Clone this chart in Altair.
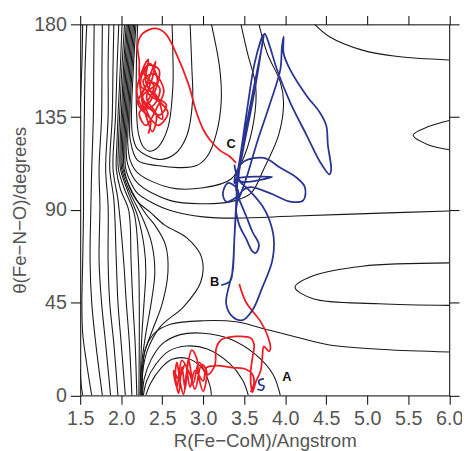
import altair as alt
import pandas as pd

# ---------------- contour lines (R in Angstrom, theta in degrees) ----------------
T0 = [(1.53, 180), (1.52, 160), (1.50, 140)]
T00 = [(1.50, 13), (1.51, 6), (1.53, 0)]
T1 = [(1.58, 180), (1.56, 160), (1.55, 135), (1.54, 110), (1.54, 90), (1.53, 65), (1.52, 45), (1.53, 30), (1.58, 15), (1.64, 0)]
T2 = [(1.67, 180), (1.665, 160), (1.66, 135), (1.64, 110), (1.63, 92), (1.62, 65), (1.64, 45), (1.69, 25), (1.77, 0)]
T3 = [(1.77, 180), (1.765, 160), (1.76, 135), (1.73, 110), (1.74, 92), (1.73, 65), (1.76, 45), (1.81, 25), (1.87, 0)]
T4 = [(1.85, 180), (1.84, 160), (1.84, 135), (1.81, 110), (1.84, 92), (1.84, 65), (1.86, 45), (1.91, 25), (1.96, 0)]
T5 = [(1.91, 180), (1.90, 160), (1.89, 135), (1.86, 110), (1.91, 95), (1.94, 65), (1.96, 45), (2.00, 25), (2.05, 0)]
T6 = [(1.97, 180), (1.95, 160), (1.93, 135), (1.90, 110), (1.96, 95), (2.03, 65), (2.06, 46), (2.10, 25), (2.13, 0)]
T7 = [(2.01, 180), (1.99, 160), (1.96, 135), (1.945, 120), (1.94, 110), (1.99, 100), (2.09, 90), (2.12, 65), (2.14, 46), (2.17, 25), (2.19, 0)]
T8 = [(2.04, 180), (2.01, 160), (1.98, 135), (1.965, 120), (1.965, 110), (2.04, 100), (2.16, 88), (2.21, 65), (2.22, 46), (2.22, 25), (2.215, 0)]
T9 = [(2.06, 180), (2.03, 160), (2.00, 135), (1.985, 120), (1.99, 110), (2.08, 99), (2.20, 87), (2.28, 72), (2.30, 60), (2.28, 46), (2.25, 28), (2.23, 0)]
B1 = [(2.075, 180), (2.045, 160), (2.015, 135), (2.0, 120), (2.005, 110), (2.10, 99), (2.26, 86), (2.37, 74), (2.41, 60), (2.37, 46), (2.30, 30), (2.25, 15), (2.24, 0)]
B2 = [(2.09, 180), (2.06, 160), (2.03, 135), (2.015, 120), (2.02, 110), (2.13, 99), (2.30, 88), (2.42, 82), (2.54, 73), (2.57, 60), (2.50, 44.5), (2.38, 31.6), (2.28, 20), (2.245, 0)]
B3 = [(2.105, 180), (2.075, 160), (2.045, 135), (2.03, 120), (2.035, 110), (2.10, 101), (2.2, 94), (2.35, 89), (2.53, 82.6), (2.80, 76.4), (2.98, 67), (2.97, 55), (2.76, 43), (2.48, 33.5), (2.32, 22), (2.26, 11), (2.25, 0)]
H1 = [(2.12, 180), (2.09, 160), (2.06, 135), (2.045, 120), (2.055, 110), (2.12, 103), (2.2, 98), (2.4, 93), (2.6, 89.7), (3.0, 86.6), (3.4, 86), (4.12, 87), (5.08, 88.3), (6.0, 89.5)]
U5 = [(2.135, 180), (2.105, 160), (2.075, 135), (2.06, 120), (2.08, 112), (2.2, 103), (2.6, 94.5), (3.0, 93), (3.34, 94), (3.58, 98), (3.74, 110), (3.92, 126.4), (3.98, 142), (3.94, 152), (3.78, 166), (3.68, 180)]
U4 = [(2.15, 180), (2.12, 160), (2.09, 135), (2.08, 122), (2.11, 114), (2.2, 108), (2.6, 100.7), (3.0, 100.7), (3.34, 105), (3.50, 116), (3.62, 134), (3.64, 150), (3.54, 166), (3.46, 180)]
U3 = [(2.165, 180), (2.135, 160), (2.105, 135), (2.11, 124), (2.2, 114), (2.44, 111.5), (2.72, 110.5), (2.92, 111.5), (3.05, 116), (3.16, 127), (3.22, 143), (3.20, 159), (3.10, 180)]
U2 = [(2.18, 180), (2.15, 160), (2.125, 135), (2.14, 126), (2.2, 119.5), (2.45, 114.5), (2.65, 117), (2.80, 126), (2.87, 143), (2.86, 160), (2.84, 180)]
U1 = [(2.20, 180), (2.185, 160), (2.185, 140), (2.21, 127), (2.27, 120.5), (2.34, 118.5), (2.45, 120.5), (2.57, 130), (2.63, 150), (2.63, 165), (2.62, 180)]
A1 = [(2.255, 0), (2.26, 10), (2.29, 22), (2.40, 30), (2.60, 34.5), (3.0, 36.2), (3.40, 35.7), (3.80, 31.7), (4.12, 28.5), (4.54, 24.5), (5.2, 22.3), (6.0, 21.1)]
A2 = [(2.26, 0), (2.28, 8), (2.36, 17), (2.50, 25), (2.72, 29.5), (3.0, 30.2), (3.32, 27.5), (3.64, 19.8), (3.85, 10.3), (3.94, 0)]
A3 = [(2.27, 0), (2.31, 7), (2.42, 15), (2.58, 21.5), (2.80, 24), (3.05, 22.5), (3.32, 15.5), (3.48, 7.5), (3.55, 0)]
A4 = [(2.30, 0), (2.36, 6), (2.48, 13), (2.62, 17.5), (2.80, 18), (2.98, 13.5), (3.08, 5), (3.10, 0)]
TR = [(4.36, 180), (4.54, 174), (4.94, 167.5), (5.35, 164.5), (6.0, 162.7)]
R1 = [(6.0, 133.4), (5.74, 130.3), (5.56, 126.3), (5.74, 121.6), (6.0, 119.2)]
R2 = [(6.0, 64.3), (4.94, 62.7), (4.34, 58), (4.12, 52.5), (4.34, 46.9), (5.14, 44.5), (6.0, 43.7)]

contour_names = ["T0", "T00", "T1", "T2", "T3", "T4", "T5", "T6", "T7", "T8", "T9",
                 "B1", "B2", "B3", "H1", "U5", "U4", "U3", "U2", "U1",
                 "A1", "A2", "A3", "A4", "TR", "R1", "R2"]
contour_lists = [T0, T00, T1, T2, T3, T4, T5, T6, T7, T8, T9,
                 B1, B2, B3, H1, U5, U4, U3, U2, U1,
                 A1, A2, A3, A4, TR, R1, R2]

# ---------------- trajectories ----------------
red_top = [(2.33, 127), (2.36, 133), (2.30, 140), (2.40, 150), (2.28, 156), (2.35, 161), (2.44, 152), (2.26, 145),
           (2.38, 138), (2.50, 134), (2.42, 146), (2.24, 150), (2.32, 160), (2.46, 158), (2.36, 143), (2.22, 137),
           (2.30, 131), (2.44, 140), (2.52, 148), (2.40, 156), (2.27, 153), (2.34, 146), (2.48, 142), (2.57, 137),
           (2.45, 131), (2.34, 135), (2.20, 142), (2.29, 149), (2.42, 162), (2.38, 154), (2.31, 144), (2.43, 136),
           (2.38, 128), (2.30, 136), (2.25, 146), (2.36, 152), (2.47, 149), (2.40, 141), (2.28, 139), (2.19, 147),
           (2.26, 158), (2.33, 163), (2.30, 152), (2.41, 145), (2.55, 141), (2.47, 136), (2.35, 139), (2.27, 142),
           (2.22, 155), (2.22, 162), (2.20, 170), (2.26, 175.5), (2.42, 178), (2.54, 175.5), (2.66, 166.8),
           (2.82, 151), (2.92, 137), (3.0, 129), (3.08, 124), (3.20, 119), (3.32, 116), (3.40, 112.8)]
red_bottom = [(3.44, 54), (3.52, 45.3), (3.70, 35.8), (3.78, 29.4), (3.82, 23), (3.80, 21.4), (3.74, 23.8),
              (3.72, 18.2), (3.70, 11.9), (3.64, 6.4), (3.60, 1.6), (3.58, 6), (3.58, 12), (3.60, 18.2),
              (3.62, 24.6), (3.58, 27.8), (3.40, 28.6), (3.22, 27), (3.16, 23), (3.14, 14.4),
              (3.05, 10), (2.95, 16), (2.88, 6), (2.82, 18), (2.78, 3), (2.74, 14), (2.70, 1), (2.66, 10),
              (2.68, 16), (2.72, 6), (2.76, 0.5), (2.80, 12), (2.86, 22), (2.92, 18), (2.95, 8), (3.00, 2),
              (3.04, 12), (2.98, 15), (2.90, 3), (2.84, 10), (2.74, 17), (2.68, 4), (2.64, 12), (2.70, 8),
              (2.78, 15), (2.84, 4), (2.90, 12), (3.00, 7), (3.04, 13.5), (3.16, 14.4), (3.36, 13.5),
              (3.52, 12.7), (3.60, 10.3), (3.62, 6.3), (3.58, 1.6)]
blue_path = [(3.22, 53.5), (3.33, 55.5), (3.36, 62), (3.38, 76), (3.40, 90), (3.42, 100),
             (3.30, 103), (3.24, 98), (3.28, 94), (3.40, 96), (3.50, 100),
             (3.58, 101), (3.82, 98), (4.06, 94), (4.22, 94.6), (4.24, 101), (4.14, 105.6), (3.94, 110.4),
             (3.74, 115.2), (3.50, 113.6), (3.40, 108), (3.38, 103),
             (3.40, 105), (3.84, 106), (3.45, 104),
             (3.44, 110), (3.50, 125), (3.58, 142), (3.66, 158), (3.72, 170), (3.75, 175.5), (3.80, 170.8),
             (3.90, 158), (4.06, 142.2), (4.26, 126.3), (4.42, 113.6), (4.54, 107.2), (4.56, 109.6),
             (4.52, 121.5), (4.50, 131), (4.42, 137.4), (4.26, 145.4), (4.06, 158), (3.98, 166), (3.98, 174),
             (3.96, 169), (3.94, 158), (3.82, 142.2), (3.66, 123.2), (3.54, 107.2), (3.46, 98),
             (3.40, 92), (3.44, 82.6), (3.52, 76.3), (3.60, 69.9), (3.64, 69.1), (3.68, 73), (3.60, 79.4),
             (3.52, 87.4), (3.44, 95),
             (3.40, 100), (3.46, 118), (3.54, 140), (3.62, 160), (3.70, 172), (3.73, 175), (3.69, 163),
             (3.60, 142), (3.50, 122), (3.42, 104),
             (3.40, 92), (3.38, 76.3), (3.36, 60.4), (3.32, 54), (3.28, 44.4), (3.36, 38.1), (3.48, 36.5),
             (3.60, 41.3), (3.72, 52.3), (3.84, 65), (3.86, 76.3), (3.80, 85.8), (3.72, 92), (3.55, 100),
             (3.44, 104), (3.40, 108), (3.38, 112)]
blue_start = [(3.74, 8), (3.68, 7.2), (3.69, 5.2), (3.74, 4.6), (3.72, 2.6), (3.66, 3)]

label_text = ["A", "B", "C"]
label_R = [4.02, 3.14, 3.34]
label_theta = [8.7, 55, 121.7]

x_ticks = [1.5, 2.0, 2.5, 3.0, 3.5, 4.0, 4.5, 5.0, 5.5, 6.0]
y_ticks = [0, 45, 90, 135, 180]

# ---------------- build tables ----------------
def to_frame(groups):
    rows = []
    for name, pts in groups:
        for i, (r, t) in enumerate(pts):
            rows.append({"line": name, "order": i, "R": r, "theta": t})
    return pd.DataFrame(rows)

contour_df = to_frame(zip(contour_names, contour_lists))
red_df = to_frame([("red_top", red_top), ("red_bottom", red_bottom)])
blue_df = to_frame([("blue_path", blue_path), ("blue_start", blue_start)])
label_df = pd.DataFrame({"R": label_R, "theta": label_theta, "text": label_text})

xscale = alt.Scale(domain=[1.5, 6.0], nice=False, zero=False)
yscale = alt.Scale(domain=[0, 180], nice=False, zero=False)

FONT = "Liberation Sans"
GRAY = "#555555"

x_axis = alt.Axis(values=x_ticks, format=".1f", grid=False, tickSize=9, labelPadding=5,
                  labelFontSize=20, labelFont=FONT, labelColor=GRAY, labelFlush=False,
                  labelOverlap=False, domainColor="black", tickColor="black",
                  title="R(Fe\u2212CoM)/Angstrom", titleFont=FONT, titleFontSize=19,
                  titleFontWeight="normal", titleColor=GRAY, titlePadding=3)
y_axis = alt.Axis(values=y_ticks, grid=False, tickSize=10, labelPadding=4,
                  labelFontSize=20, labelFont=FONT, labelColor=GRAY, labelFlush=False,
                  labelOverlap=False, domainColor="black", tickColor="black",
                  title="\u03b8(Fe\u2212N\u2212O)/degrees", titleFont=FONT, titleFontSize=19,
                  titleFontWeight="normal", titleColor=GRAY, titlePadding=4)
x_top = alt.Axis(orient="top", values=x_ticks, grid=False, tickSize=9, labels=False,
                 domainColor="black", tickColor="black", title="")
y_right = alt.Axis(orient="right", values=y_ticks, grid=False, tickSize=10, labels=False,
                   domainColor="black", tickColor="black", title="")

contours = alt.Chart(contour_df).mark_line(color="#1a1a1a", strokeWidth=1.1, clip=True,
                                           interpolate="catmull-rom").encode(
    x=alt.X("R:Q", scale=xscale, axis=x_axis),
    y=alt.Y("theta:Q", scale=yscale, axis=y_axis),
    detail="line:N",
    order="order:Q",
)

red = alt.Chart(red_df).mark_line(color="#ee1d23", strokeWidth=1.8, clip=True,
                                  interpolate="catmull-rom").encode(
    x=alt.X("R:Q", scale=xscale, axis=None),
    y=alt.Y("theta:Q", scale=yscale, axis=None),
    detail="line:N",
    order="order:Q",
)

blue = alt.Chart(blue_df).mark_line(color="#2a3593", strokeWidth=1.8, clip=True,
                                    interpolate="catmull-rom").encode(
    x=alt.X("R:Q", scale=xscale, axis=None),
    y=alt.Y("theta:Q", scale=yscale, axis=None),
    detail="line:N",
    order="order:Q",
)

labels = alt.Chart(label_df).mark_text(font=FONT, fontSize=13, fontWeight="bold",
                                       color="#111111").encode(
    x=alt.X("R:Q", scale=xscale, axis=x_top),
    y=alt.Y("theta:Q", scale=yscale, axis=y_right),
    text="text:N",
)

chart = alt.layer(contours, red, blue, labels).resolve_axis(
    x="independent", y="independent"
).properties(
    width=375.5, height=377.6,
    padding={"left": 73.5, "top": 12.7, "right": 13, "bottom": 58},
    autosize=alt.AutoSizeParams(type="none"),
).configure_view(stroke=None)

chart.save("out.html", embed_options={"renderer": "svg", "actions": False})
